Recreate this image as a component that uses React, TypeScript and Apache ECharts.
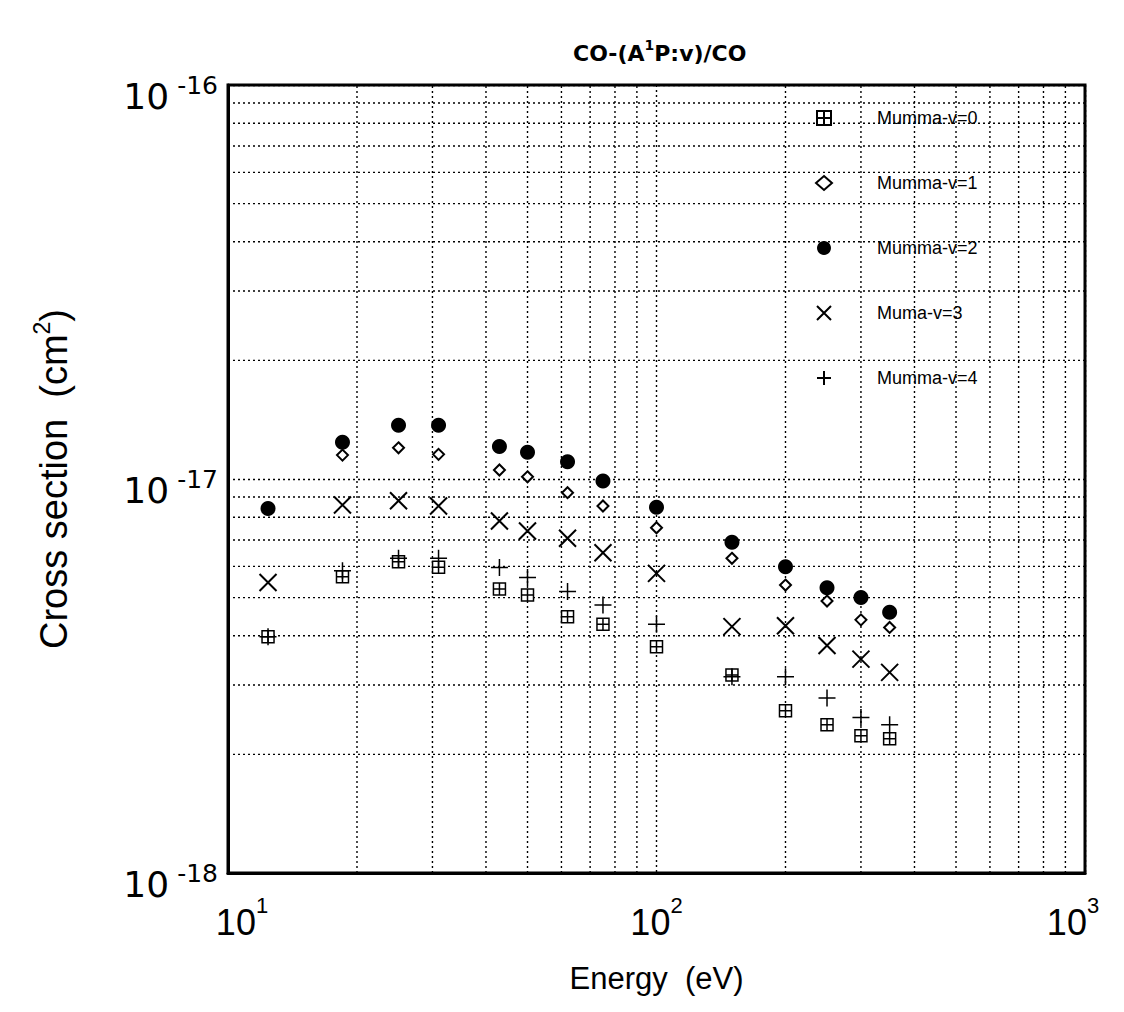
import React, { useEffect, useRef } from "react";
import * as echarts from "echarts";

const energies = [12.4, 18.5, 25, 31, 43, 50, 62, 75, 100, 150, 200, 250, 300, 350];
const v0 = [3.98e-18, 5.65e-18, 6.17e-18, 5.97e-18, 5.26e-18, 5.08e-18, 4.47e-18, 4.28e-18, 3.75e-18, 3.18e-18, 2.58e-18, 2.38e-18, 2.23e-18, 2.19e-18];
const v1 = [null, 1.15e-17, 1.2e-17, 1.155e-17, 1.054e-17, 1.013e-17, 9.23e-18, 8.54e-18, 7.52e-18, 6.29e-18, 5.38e-18, 4.9e-18, 4.39e-18, 4.2e-18];
const v2 = [8.42e-18, 1.24e-17, 1.37e-17, 1.37e-17, 1.21e-17, 1.17e-17, 1.106e-17, 9.88e-18, 8.48e-18, 6.91e-18, 5.99e-18, 5.3e-18, 5.0e-18, 4.59e-18];
const v3 = [5.46e-18, 8.59e-18, 8.81e-18, 8.54e-18, 7.82e-18, 7.38e-18, 7.07e-18, 6.5e-18, 5.76e-18, 4.22e-18, 4.24e-18, 3.78e-18, 3.49e-18, 3.23e-18];
const v4 = [3.98e-18, 5.85e-18, 6.29e-18, 6.29e-18, 5.96e-18, 5.62e-18, 5.18e-18, 4.79e-18, 4.28e-18, 3.15e-18, 3.15e-18, 2.78e-18, 2.48e-18, 2.38e-18];
const seriesNames = ["Mumma-v=0", "Mumma-v=1", "Mumma-v=2", "Muma-v=3", "Mumma-v=4"];

const xRange = [10, 1000];
const yRange = [1e-18, 1e-16];
const xMinorTicks = [20, 30, 40, 50, 60, 70, 80, 90, 200, 300, 400, 500, 600, 700, 800, 900];
const yMinorTicks = [2e-18, 3e-18, 4e-18, 5e-18, 6e-18, 7e-18, 8e-18, 9e-18, 2e-17, 3e-17, 4e-17, 5e-17, 6e-17, 7e-17, 8e-17, 9e-17];

const FONT = "'Liberation Sans', Arial, Helvetica, sans-serif";
const DJ = "'DejaVu Sans', sans-serif";

function pairs(vals: (number | null)[]) {
  const out: number[][] = [];
  vals.forEach((v, i) => {
    if (v != null) out.push([energies[i], v]);
  });
  return out;
}

const gridLine = { type: [2, 3] as any, color: "#000", width: 1.4 };

export default function App() {
  const ref = useRef<HTMLDivElement>(null);
  useEffect(() => {
    if (!ref.current) return;
    const chart = echarts.init(ref.current, null, { renderer: "svg" });
    const styles = [
      { symbol: "path://M0,0 L10,0 L10,10 L0,10 Z M5,0 L5,10 M0,5 L10,5", size: 12, item: { color: "#fff", borderColor: "#000", borderWidth: 1.5, opacity: 1 } },
      { symbol: "diamond", size: 11, item: { color: "#fff", borderColor: "#000", borderWidth: 2, opacity: 1 } },
      { symbol: "circle", size: 15, item: { color: "#000", borderColor: "#000", borderWidth: 0, opacity: 1 } },
      { symbol: "path://M0,0 L10,10 M10,0 L0,10", size: 17, item: { color: "transparent", borderColor: "#000", borderWidth: 2, opacity: 1 } },
      { symbol: "path://M5,0 L5,10 M0,5 L10,5", size: 17, item: { color: "transparent", borderColor: "#000", borderWidth: 1.5, opacity: 1 } },
    ];
    const allData = [v0, v1, v2, v3, v4];
    const gridSeries: any[] = [
      ...xMinorTicks.map((x) => [[x, yRange[0]], [x, yRange[1]]]),
      ...yMinorTicks.map((y) => [[xRange[0], y], [xRange[1], y]]),
    ].map((d, i) => ({
      name: "grid" + i,
      type: "line",
      data: d,
      symbol: "none",
      silent: true,
      lineStyle: gridLine,
      z: 1,
    }));
    const series: any[] = allData.map((d, i) => ({
      name: seriesNames[i],
      type: "scatter",
      data: pairs(d),
      symbol: styles[i].symbol,
      symbolSize: styles[i].size,
      itemStyle: styles[i].item,
      z: 5,
    }));

    const xRich = (pad: number[]) => ({
      fontFamily: FONT, fontSize: 36, lineHeight: 56, color: "#000", padding: pad,
    });
    const supRich = (pad: number[]) => ({
      fontFamily: FONT, fontSize: 22, lineHeight: 22, verticalAlign: "top", color: "#000", padding: pad,
    });

    chart.setOption({
      animation: false,
      backgroundColor: "#fff",
      textStyle: { fontFamily: FONT },
      title: {
        text: "{a|CO-(A}{s|1}{a|P:v)/CO}",
        left: 568,
        top: 33,
        textStyle: {
          rich: {
            a: { fontFamily: DJ, fontWeight: "bold", fontSize: 22, lineHeight: 30, color: "#000" },
            s: { fontFamily: DJ, fontWeight: "bold", fontSize: 14, lineHeight: 14, verticalAlign: "top", color: "#000" },
          },
        },
      },
      legend: {
        orient: "vertical",
        left: 810,
        top: 104,
        itemWidth: 16,
        itemHeight: 14,
        itemGap: 47,
        selectedMode: false,
        textStyle: { fontFamily: FONT, fontSize: 18, color: "#000", padding: [0, 0, 0, 40] },
        data: seriesNames,
      },
      grid: {
        left: 228,
        right: 39,
        top: 85,
        bottom: 139,
        show: true,
        borderColor: "#000",
        borderWidth: 3,
        backgroundColor: "transparent",
        containLabel: false,
        outerBoundsMode: "none",
      },
      xAxis: {
        type: "log",
        logBase: 10,
        min: xRange[0],
        max: xRange[1],
        name: "Energy  (eV)",
        nameLocation: "middle",
        nameGap: 90,
        nameTextStyle: { fontFamily: FONT, fontSize: 31, color: "#000" },
        axisLine: { show: true, lineStyle: { color: "#000", width: 3 } },
        axisTick: { show: false },
        splitLine: { show: true, lineStyle: gridLine },
        axisLabel: {
          margin: 21,
          formatter: (v: number) => {
            const e = Math.round(Math.log10(v));
            if (v <= xRange[0]) return `{bl|10}{s|${e}}`;
            if (v >= xRange[1]) return `{b|10}{sr|${e}}`;
            return `{b|10}{s|${e}}`;
          },
          rich: {
            b: xRich([0, 0, 0, 0]),
            bl: xRich([0, 0, 0, 28]),
            s: supRich([0, 0, 0, 0]),
            sr: supRich([0, 24, 0, 0]),
          },
        },
      },
      yAxis: {
        type: "log",
        logBase: 10,
        min: yRange[0],
        max: yRange[1],
        name: "{a|Cross section  (cm}{s|2}{a|)}",
        nameLocation: "middle",
        nameGap: 150,
        nameRotate: 90,
        nameTextStyle: {
          rich: {
            a: { fontFamily: FONT, fontSize: 38, lineHeight: 48, color: "#000" },
            s: { fontFamily: FONT, fontSize: 23, lineHeight: 23, verticalAlign: "top", color: "#000" },
          },
        },
        axisLine: { show: true, lineStyle: { color: "#000", width: 3 } },
        axisTick: { show: false },
        splitLine: { show: true, lineStyle: gridLine },
        axisLabel: {
          margin: 10,
          padding: [22, 0, 0, 0],
          formatter: (v: number) => `{b|10}{s|${Math.round(Math.log10(v))}}`,
          rich: {
            b: { fontFamily: DJ, fontSize: 36, lineHeight: 46, color: "#000" },
            s: { fontFamily: DJ, fontSize: 25, lineHeight: 25, verticalAlign: "top", padding: [0, 0, 0, 8], color: "#000" },
          },
        },
      },
      series: [...gridSeries, ...series],
    });
    return () => chart.dispose();
  }, []);
  return <div ref={ref} style={{ position: "fixed", left: 0, top: 0, width: 1124, height: 1012 }} />;
}
